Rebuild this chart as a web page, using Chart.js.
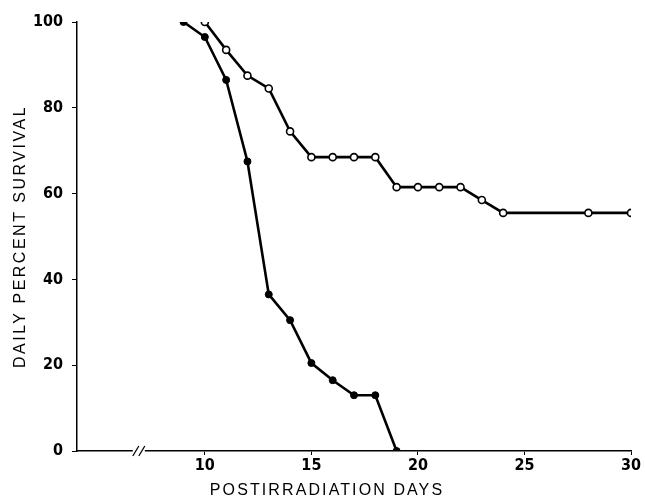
<!DOCTYPE html>
<html lang="en">
  <head>
    <meta charset="UTF-8" />
    <script src="https://cdn.jsdelivr.net/npm/chart.js"></script>
    <title>Daily percent survival</title>
    <style>
      body { margin: 0; background: #fff; }
      .grafico { width: 645px; height: 500px; }
    </style>
  </head>
  <body>
    <div class="grafico">
      <canvas id="graficoSobrevida"></canvas>
    </div>
    <script>
      // dados
      const diasFechado = [9, 10, 11, 12, 13, 14, 15, 16, 17, 18, 19];
      const sobrevidaFechado = [100, 96.5, 86.5, 67.5, 36.5, 30.5, 20.5, 16.5, 13, 13, 0];
      const diasAberto = [10, 11, 12, 13, 14, 15, 16, 17, 18, 19, 20, 21, 22, 23, 24, 28, 30];
      const sobrevidaAberto = [100, 93.5, 87.5, 84.5, 74.5, 68.5, 68.5, 68.5, 68.5, 61.5, 61.5, 61.5, 61.5, 58.5, 55.5, 55.5, 55.5];
      const ticksX = [10, 15, 20, 25, 30];
      const ticksY = [0, 20, 40, 60, 80, 100];

      const fonteTicks = { family: "'Liberation Sans Narrow', 'DejaVu Sans Condensed', Arial", size: 16, weight: "bold" };
      const fonteTitulo = { family: "'Liberation Sans', Arial", size: 16 };

      // titulos com letras espaçadas (e o do eixo x um pouco à esquerda, como no original)
      const ajusteTitulos = {
        id: "ajusteTitulos",
        beforeDraw(chart) {
          const ajustes = { x: { espaco: "2.1px", dx: -27 }, y: { espaco: "2.5px", dx: 0 } };
          Object.values(chart.scales).forEach((s) => {
            if (s._tituloAjustado) return;
            const a = ajustes[s.id];
            const original = s.drawTitle.bind(s);
            s.drawTitle = function () {
              const ctx = this.ctx;
              ctx.save();
              ctx.letterSpacing = a.espaco;
              ctx.translate(a.dx, 0);
              original();
              ctx.restore();
            };
            s._tituloAjustado = true;
          });
        },
      };

      // desenha o "//" de quebra do eixo x
      const quebraEixo = {
        id: "quebraEixo",
        afterDraw(chart) {
          const ctx = chart.ctx;
          const x = chart.scales.x.getPixelForValue(6.9);
          const y = chart.chartArea.bottom;
          ctx.save();
          ctx.fillStyle = "#fff";
          ctx.fillRect(x - 6, y - 2, 12, 4);
          ctx.strokeStyle = "#000";
          ctx.lineWidth = 1.3;
          [-3, 3].forEach((d) => {
            ctx.beginPath();
            ctx.moveTo(x + d - 3, y + 5);
            ctx.lineTo(x + d + 3, y - 5);
            ctx.stroke();
          });
          ctx.restore();
        },
      };

      new Chart(document.getElementById("graficoSobrevida"), {
        type: "line",
        data: {
          datasets: [
            {
              data: diasFechado.map((d, i) => ({ x: d, y: sobrevidaFechado[i] })),
              borderColor: "#000",
              borderWidth: 2.6,
              pointRadius: 3.5,
              pointBackgroundColor: "#000",
              pointBorderColor: "#000",
              pointBorderWidth: 1,
              tension: 0,
            },
            {
              data: diasAberto.map((d, i) => ({ x: d, y: sobrevidaAberto[i] })),
              borderColor: "#000",
              borderWidth: 2.6,
              pointRadius: 3.5,
              pointBackgroundColor: "#fff",
              pointBorderColor: "#000",
              pointBorderWidth: 1.6,
              tension: 0,
            },
          ],
        },
        options: {
          responsive: true,
          maintainAspectRatio: false,
          animation: false,
          layout: { padding: { left: 0, top: 22, right: 14, bottom: 0 } },
          plugins: { legend: { display: false }, tooltip: { enabled: false } },
          scales: {
            x: {
              type: "linear",
              min: 4,
              max: 30,
              afterBuildTicks: (s) => { s.ticks = ticksX.map((v) => ({ value: v })); },
              afterFit: (s) => { s.height = 49; },
              border: { color: "#000", width: 1.5 },
              grid: { drawOnChartArea: false, color: "#000", tickLength: 4 },
              ticks: { color: "#000", font: fonteTicks, padding: 1 },
              title: { display: true, text: "POSTIRRADIATION DAYS", color: "#000", font: fonteTitulo, padding: { top: 0, bottom: 0 } },
            },
            y: {
              min: 0,
              max: 100,
              afterBuildTicks: (s) => { s.ticks = ticksY.map((v) => ({ value: v })); },
              afterFit: (s) => { s.width = 77; },
              border: { color: "#000", width: 1.5 },
              grid: { drawOnChartArea: false, color: "#000", tickLength: 5 },
              ticks: { color: "#000", font: fonteTicks, padding: 9 },
              title: { display: true, text: "DAILY PERCENT SURVIVAL", color: "#000", font: fonteTitulo, padding: { top: 11, bottom: 0 } },
            },
          },
        },
        plugins: [ajusteTitulos, quebraEixo],
      });
    </script>
  </body>
</html>
